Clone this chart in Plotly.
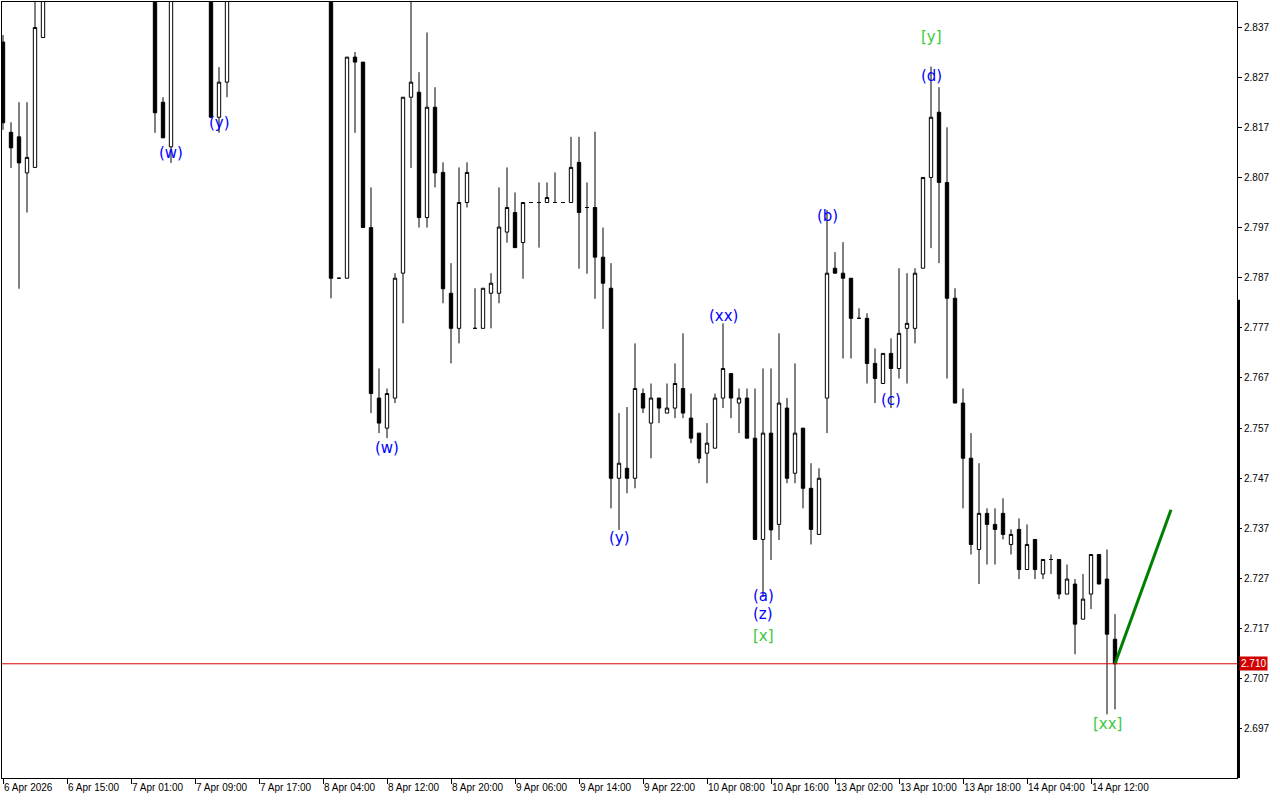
import plotly.graph_objects as go

# Velas horárias (índice da barra)
opens = [
    2.8340, 2.8160, 2.8151, 2.8079, 2.8090, 2.8349, 2.852, 2.856, 2.860, 2.855,
    2.858, 2.864, 2.861, 2.856, 2.853, 2.857, 2.854, 2.851, 2.853, 2.849,
    2.8220, 2.8131, 2.848, 2.853, 2.851, 2.855, 2.850, 2.8190, 2.8260, 2.847,
    2.852, 2.857, 2.861, 2.858, 2.855, 2.859, 2.862, 2.860, 2.856, 2.853,
    2.851, 2.849, 2.7869, 2.7869, 2.8310, 2.8300, 2.7970, 2.7630, 2.7570, 2.7630,
    2.7879, 2.8230, 2.8240, 2.7990, 2.8210, 2.8080, 2.7839, 2.7769, 2.8020, 2.7769,
    2.7769, 2.7839, 2.7839, 2.7961, 2.8000, 2.7940, 2.8020, 2.8020, 2.8020, 2.8020,
    2.8020, 2.8020, 2.8100, 2.8010, 2.8010, 2.7911, 2.7849, 2.7470, 2.7490, 2.7470,
    2.7639, 2.7580, 2.7630, 2.7600, 2.7610, 2.7649, 2.7590, 2.7560, 2.7520, 2.7530,
    2.7630, 2.7679, 2.7620, 2.7630, 2.7550, 2.7348, 2.7560, 2.7378, 2.7610, 2.7480,
    2.7570, 2.7450, 2.7358, 2.7630, 2.7889, 2.7879, 2.7869, 2.7789, 2.7789, 2.7699,
    2.7659, 2.7719, 2.7689, 2.7769, 2.7769, 2.7889, 2.8070, 2.8200, 2.8060, 2.7829,
    2.7620, 2.7510, 2.7328, 2.7400, 2.7378, 2.7400, 2.7338, 2.7368, 2.7288, 2.7348,
    2.7279, 2.7308, 2.7308, 2.7239, 2.7259, 2.7189, 2.7239, 2.7318, 2.7269, 2.7149,
]
highs = [
    2.8354, 2.8180, 2.8220, 2.8220, 2.8460, 2.8560, 2.860, 2.864, 2.866, 2.862,
    2.868, 2.870, 2.866, 2.862, 2.860, 2.863, 2.859, 2.857, 2.858, 2.853,
    2.8230, 2.8500, 2.856, 2.860, 2.857, 2.858, 2.853, 2.8290, 2.8500, 2.855,
    2.860, 2.864, 2.867, 2.863, 2.861, 2.866, 2.868, 2.864, 2.861, 2.858,
    2.856, 2.852, 2.7869, 2.8310, 2.8320, 2.8300, 2.8050, 2.7689, 2.7649, 2.7879,
    2.8230, 2.8440, 2.8280, 2.8359, 2.8250, 2.8100, 2.7899, 2.8090, 2.8100, 2.7849,
    2.7849, 2.7879, 2.8050, 2.8090, 2.8040, 2.8020, 2.8020, 2.8060, 2.8060, 2.8080,
    2.8020, 2.8151, 2.8151, 2.8060, 2.8161, 2.7970, 2.7899, 2.7600, 2.7612, 2.7739,
    2.7649, 2.7659, 2.7630, 2.7659, 2.7699, 2.7759, 2.7639, 2.7560, 2.7580, 2.7639,
    2.7779, 2.7679, 2.7649, 2.7649, 2.7649, 2.7689, 2.7689, 2.7759, 2.7630, 2.7699,
    2.7570, 2.7500, 2.7490, 2.8005, 2.7921, 2.7941, 2.7869, 2.7809, 2.7799, 2.7729,
    2.7719, 2.7749, 2.7889, 2.7879, 2.7889, 2.8070, 2.8291, 2.8250, 2.8170, 2.7849,
    2.7649, 2.7560, 2.7500, 2.7410, 2.7410, 2.7430, 2.7368, 2.7390, 2.7378, 2.7348,
    2.7308, 2.7318, 2.7308, 2.7298, 2.7269, 2.7279, 2.7318, 2.7318, 2.7328, 2.7199,
]
lows = [
    2.8165, 2.8089, 2.7848, 2.8000, 2.8090, 2.8349, 2.848, 2.851, 2.853, 2.850,
    2.855, 2.858, 2.852, 2.850, 2.849, 2.851, 2.848, 2.846, 2.846, 2.8159,
    2.8149, 2.8099, 2.845, 2.849, 2.846, 2.847, 2.8188, 2.8159, 2.8230, 2.845,
    2.849, 2.852, 2.855, 2.851, 2.850, 2.854, 2.857, 2.853, 2.850, 2.847,
    2.846, 2.7829, 2.7869, 2.7869, 2.8159, 2.7970, 2.7600, 2.7560, 2.7550, 2.7620,
    2.7779, 2.8089, 2.7970, 2.7970, 2.8050, 2.7819, 2.7699, 2.7739, 2.8010, 2.7769,
    2.7769, 2.7769, 2.7819, 2.7940, 2.7930, 2.7868, 2.8020, 2.7930, 2.8020, 2.8020,
    2.8020, 2.8020, 2.7888, 2.7878, 2.7828, 2.7768, 2.7410, 2.7367, 2.7440, 2.7450,
    2.7600, 2.7510, 2.7580, 2.7600, 2.7590, 2.7590, 2.7540, 2.7500, 2.7460, 2.7530,
    2.7610, 2.7590, 2.7560, 2.7550, 2.7348, 2.7233, 2.7307, 2.7347, 2.7460, 2.7460,
    2.7410, 2.7338, 2.7358, 2.7560, 2.7879, 2.7709, 2.7709, 2.7789, 2.7659, 2.7620,
    2.7659, 2.7610, 2.7669, 2.7659, 2.7739, 2.7889, 2.7929, 2.7899, 2.7669, 2.7620,
    2.7410, 2.7318, 2.7259, 2.7298, 2.7298, 2.7348, 2.7318, 2.7269, 2.7288, 2.7269,
    2.7269, 2.7279, 2.7229, 2.7239, 2.7119, 2.7189, 2.7209, 2.7259, 2.6999, 2.7009,
]
closes = [
    2.8179, 2.8129, 2.8099, 2.8110, 2.8369, 2.8520, 2.856, 2.860, 2.855, 2.858,
    2.864, 2.861, 2.856, 2.853, 2.857, 2.854, 2.851, 2.853, 2.849, 2.8199,
    2.8149, 2.8480, 2.853, 2.851, 2.855, 2.850, 2.8190, 2.8260, 2.8470, 2.852,
    2.857, 2.861, 2.858, 2.855, 2.859, 2.862, 2.860, 2.856, 2.853, 2.851,
    2.849, 2.7869, 2.7869, 2.8310, 2.8300, 2.7970, 2.7639, 2.7580, 2.7639, 2.7869,
    2.8230, 2.8260, 2.7990, 2.8210, 2.8079, 2.7848, 2.7769, 2.8020, 2.8080, 2.7769,
    2.7849, 2.7859, 2.7971, 2.8010, 2.7930, 2.8020, 2.8020, 2.8020, 2.8030, 2.8020,
    2.8020, 2.8090, 2.8000, 2.8010, 2.7911, 2.7859, 2.7470, 2.7500, 2.7470, 2.7649,
    2.7610, 2.7630, 2.7610, 2.7610, 2.7659, 2.7600, 2.7550, 2.7510, 2.7540, 2.7630,
    2.7689, 2.7630, 2.7630, 2.7550, 2.7348, 2.7560, 2.7367, 2.7620, 2.7470, 2.7560,
    2.7450, 2.7368, 2.7470, 2.7879, 2.7879, 2.7869, 2.7789, 2.7789, 2.7699, 2.7669,
    2.7719, 2.7689, 2.7759, 2.7779, 2.7879, 2.8070, 2.8190, 2.8060, 2.7829, 2.7620,
    2.7510, 2.7338, 2.7400, 2.7378, 2.7368, 2.7358, 2.7358, 2.7288, 2.7338, 2.7288,
    2.7308, 2.7308, 2.7239, 2.7269, 2.7179, 2.7229, 2.7318, 2.7259, 2.7159, 2.7100,
]
bars = list(range(len(opens)))

# Rótulos do eixo de tempo (uma marca a cada 8 barras)
time_labels = [
    "6 Apr 2026", "6 Apr 15:00", "7 Apr 01:00", "7 Apr 09:00", "7 Apr 17:00",
    "8 Apr 04:00", "8 Apr 12:00", "8 Apr 20:00", "9 Apr 06:00", "9 Apr 14:00",
    "9 Apr 22:00", "10 Apr 08:00", "10 Apr 16:00", "13 Apr 02:00", "13 Apr 10:00",
    "13 Apr 18:00", "14 Apr 04:00", "14 Apr 12:00",
]
time_ticks = [8 * i for i in range(len(time_labels))]
price_ticks = [2.697, 2.707, 2.717, 2.727, 2.737, 2.747, 2.757, 2.767,
               2.777, 2.787, 2.797, 2.807, 2.817, 2.827, 2.837]

# Contagem de ondas
wave_text = ["(w)", "(y)", "(w)", "(y)", "(xx)", "(a)", "(z)", "[x]",
             "(b)", "(c)", "[y]", "(d)", "[xx]"]
wave_bar = [21, 27, 48, 77, 90, 95, 95, 95, 103, 111, 116, 116, 138]
wave_price = [2.8119, 2.8179, 2.7530, 2.7351, 2.7794, 2.7235, 2.7199, 2.7155,
              2.7993, 2.7626, 2.8350, 2.8272, 2.6980]
wave_color = ["#0000ff"] * 7 + ["#3cc83c"] + ["#0000ff"] * 2 + ["#3cc83c", "#0000ff", "#3cc83c"]

# Projeção (linha verde) e preço atual
proj_bar = [139, 146]
proj_price = [2.7100, 2.7407]
last_price = 2.710

fig = go.Figure()

fig.add_trace(go.Candlestick(
    x=bars, open=opens, high=highs, low=lows, close=closes,
    increasing=dict(line=dict(color="black", width=1), fillcolor="white"),
    decreasing=dict(line=dict(color="black", width=1), fillcolor="black"),
    whiskerwidth=0, showlegend=False, hoverinfo="skip"
))

fig.add_trace(go.Scatter(
    x=proj_bar, y=proj_price, mode="lines",
    line=dict(color="#008000", width=3), showlegend=False, hoverinfo="skip"
))

# Linha do preço atual
fig.add_hline(y=last_price, line=dict(color="#e00000", width=1))

for t, xb, yp, c in zip(wave_text, wave_bar, wave_price, wave_color):
    fig.add_annotation(x=xb, y=yp, text=t, showarrow=False,
                       font=dict(family="DejaVu Sans", size=15, color=c),
                       xanchor="center", yanchor="middle")

# Etiqueta do preço no eixo
fig.add_annotation(xref="paper", x=1.0, y=last_price, text=f"{last_price:.3f}",
                   showarrow=False, xanchor="left", yanchor="middle", xshift=2,
                   bgcolor="#d00000", borderpad=1,
                   font=dict(family="Liberation Sans", size=10, color="white"))

# Barra grossa na borda direita
fig.add_shape(type="line", xref="paper", yref="y", x0=1.0012, x1=1.0012,
              y0=2.7826, y1=2.6872, line=dict(color="black", width=3))

fig.update_layout(
    width=1280, height=800,
    margin=dict(l=2, r=43, t=2, b=22),
    paper_bgcolor="white", plot_bgcolor="white",
    boxgap=0.4,
    font=dict(family="Liberation Sans", size=10, color="black"),
    xaxis=dict(
        range=[-0.125, 154.25], rangeslider=dict(visible=False),
        tickmode="array", tickvals=time_ticks, ticktext=time_labels,
        ticks="outside", ticklen=5, tickcolor="black", tickangle=0,
        ticklabelposition="outside right", automargin=False,
        showgrid=False, zeroline=False,
        showline=True, mirror=True, linecolor="black", linewidth=1
    ),
    yaxis=dict(
        range=[2.68722, 2.84199], side="right", automargin=False,
        tickmode="array", tickvals=price_ticks,
        ticktext=[f"{v:.3f}" for v in price_ticks],
        ticks="outside", ticklen=4, tickcolor="black",
        showgrid=False, zeroline=False,
        showline=True, mirror=True, linecolor="black", linewidth=1
    ),
)

# Remove a margem padrão da página e a barra de ferramentas
fig.write_html("out.html", config={"displayModeBar": False},
               post_script="document.body.style.margin='0px';")
